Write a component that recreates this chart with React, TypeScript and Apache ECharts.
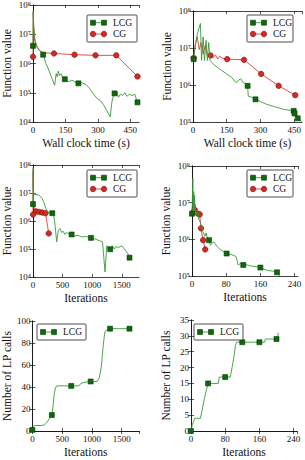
import React, { useEffect, useRef } from "react";
import * as echarts from "echarts";

// [x, y, marker] — marker = 1 draws the series symbol at that point
type Pt = [number, number, number?];

// Function value against wall clock time (s)
const lcgTimeValueA: Pt[] = [
  [0, 4e6, 1], [1, 6e7], [3, 2e7], [6, 1e7], [10, 6e6], [18, 4e6], [30, 2.8e6],
  [47, 2.0e6, 1], [60, 1.0e6], [75, 5.5e5], [88, 3.0e5], [100, 1.8e5], [107, 4.5e5],
  [112, 3.5e5], [117, 5.5e5], [122, 3.8e5], [130, 4.5e5], [138, 3.2e5], [147, 2.9e5, 1],
  [158, 2.6e5], [168, 2.4e5], [180, 2.7e5], [195, 2.3e5], [210, 2.1e5, 1], [225, 2.2e5],
  [245, 1.9e5], [262, 1.4e5], [280, 9e4], [295, 6.5e4], [310, 5.5e4], [325, 4e4],
  [340, 2.5e4], [357, 1.5e4], [365, 5e4], [372, 8e4], [377, 9.5e4, 1], [388, 1.1e5],
  [395, 7e4], [405, 9e4], [415, 8e4], [425, 1.0e5], [435, 7.5e4], [445, 9e4], [458, 8e4],
  [470, 9e4], [478, 6e4], [483, 4.7e4, 1],
];
const cgTimeValueA: Pt[] = [
  [0, 1.7e6, 1], [1, 6e7], [3, 2e7], [8, 6e6], [15, 4e6], [25, 3e6], [40, 2.5e6],
  [60, 2.3e6], [97, 2.2e6, 1], [192, 2.0e6, 1], [289, 1.9e6, 1], [385, 1.9e6, 1],
  [483, 3.6e5, 1],
];
const lcgTimeValueB: Pt[] = [
  [3, 5e6, 1], [10, 1.2e7], [20, 2.5e7], [33, 4.6e7], [38, 4.6e6], [45, 2e7], [51, 4.6e6],
  [58, 1.6e7], [64, 4.6e6], [70, 1.4e7], [76, 4.6e6], [90, 3.7e6], [119, 2.7e6],
  [149, 2.0e6], [172, 1.6e6], [191, 1.17e6], [201, 1.3e6], [212, 1.5e6], [221, 1.2e6],
  [231, 1.1e6], [243, 9.5e5, 1], [246, 5e5], [261, 4.7e5], [278, 4.1e5, 1], [328, 3e5],
  [403, 2.2e5], [448, 2.0e5, 1], [452, 1.7e5, 1], [466, 1.26e5, 1], [485, 1.02e5],
];
const cgTimeValueB: Pt[] = [
  [3, 5.4e6, 1], [10, 1.2e7], [19, 2.0e7], [28, 9e6], [35, 1.4e7], [45, 7e6], [55, 1.2e7],
  [65, 6e6], [78, 6.3e6, 1], [90, 5.5e6], [100, 6.5e6], [110, 5e6], [118, 6e6],
  [130, 5.3e6], [152, 5.0e6, 1], [227, 4.8e6, 1], [303, 2.0e6, 1], [381, 9.5e5, 1],
  [455, 5.3e5, 1],
];

// Function value against iterations
const lcgIterValueA: Pt[] = [
  [0, 4e6, 1], [2, 8e7], [5, 2e7], [12, 9e6], [30, 9e6], [97, 8.5e6], [152, 6.4e6],
  [180, 4.8e6], [218, 2.8e6], [251, 2.1e6], [326, 1.9e6, 1], [350, 1.6e6], [373, 7e5],
  [400, 1.8e5], [428, 4.7e5], [456, 5.4e5], [483, 3.9e5], [511, 4.3e5], [538, 3.3e5],
  [566, 3.9e5], [600, 3.5e5], [652, 3.3e5, 1], [704, 2.9e5], [760, 3.1e5], [820, 2.7e5],
  [900, 2.8e5], [978, 2.5e5, 1], [1036, 2.3e5], [1118, 2.0e5], [1173, 1.8e5],
  [1217, 1.5e4], [1245, 1.3e5], [1304, 9.8e4, 1], [1339, 1.3e5], [1370, 1.0e5],
  [1395, 1.2e5], [1450, 1.15e5], [1500, 1.3e5], [1560, 9e4], [1600, 6.9e4],
  [1630, 4.9e4, 1],
];
const cgIterValueA: Pt[] = [
  [0, 1.7e6, 1], [1, 6e7], [3, 2e7], [6, 8e6], [12, 4e6], [22, 3e6], [35, 2.5e6],
  [53, 2.2e6, 1], [106, 2.1e6, 1], [159, 2.0e6, 1], [212, 1.9e6, 1], [265, 3.6e5, 1],
];
const lcgIterValueB: Pt[] = [
  [0, 5e6, 1], [2, 4.6e7], [3, 5e6], [4, 2e7], [5, 4.6e6], [6, 1.6e7], [7, 4.6e6],
  [8, 6e6], [10, 4.5e6], [13, 6.5e6], [16, 3.5e6], [19, 3e6], [22, 2.2e6], [26, 1.6e6],
  [30, 1.2e6], [33, 1.5e6], [36, 1.1e6], [40, 9.5e5, 1], [43, 6.9e5], [51, 8.6e5],
  [59, 6.3e5], [66, 5.3e5], [72, 4.8e5], [81, 4.1e5, 1], [91, 3.9e5], [103, 3.4e5],
  [108, 2.0e5], [114, 2.2e5], [120, 2.0e5, 1], [130, 2.0e5], [140, 1.85e5], [150, 1.8e5],
  [160, 1.7e5, 1], [170, 1.5e5], [180, 1.4e5], [190, 1.35e5], [199, 1.26e5, 1],
  [205, 1.02e5],
];
const cgIterValueB: Pt[] = [
  [2, 5.4e6, 1], [4, 1.5e7], [6, 6.3e6, 1], [8, 9e6], [10, 5.5e6], [12, 7e6],
  [14, 5.0e6, 1], [18, 4.8e6, 1], [21, 2.0e6, 1], [26, 9.5e5, 1], [31, 5.3e5, 1],
];

// Number of LP calls against iterations
const lcgIterLpA: Pt[] = [
  [0, 1, 1], [10, 4], [30, 5], [150, 5], [200, 5.5], [230, 7], [260, 9], [290, 12],
  [326, 14.5, 1], [345, 22], [365, 33], [385, 39], [410, 41], [500, 41], [652, 41, 1],
  [780, 41], [810, 43], [850, 44], [900, 44.5], [978, 45, 1], [1087, 45], [1120, 48],
  [1140, 53], [1161, 60], [1184, 75], [1205, 85], [1218, 90], [1247, 92], [1304, 93, 1],
  [1450, 93], [1630, 93, 1],
];
const lcgIterLpB: Pt[] = [
  [0, 0, 1], [3, 2], [6, 3], [9, 4], [22, 4], [26, 6.5], [31, 10], [36, 13], [40, 15, 1],
  [50, 15], [64, 15], [66, 17], [80, 17, 1], [92, 17], [96, 20], [100, 23], [104, 27],
  [107, 28], [120, 28, 1], [140, 28], [160, 28, 1], [172, 28], [174, 29], [190, 29],
  [200, 29, 1], [203, 29.5], [204, 31],
];

const xTitles = ["Wall clock time (s)", "Wall clock time (s)", "Iterations", "Iterations", "Iterations", "Iterations"];
const yTitles = ["Function value", "Function value", "Function value", "Function value", "Number of LP calls", "Number of LP calls"];

const FONT = "Liberation Serif";
const GREEN_LINE = "#3a9a3a";
const GREEN_MARK = "#0c6a0c";
const GREEN_EDGE = "#063d06";
const RED_LINE = "#e0403a";
const RED_MARK = "#d42a24";
const RED_EDGE = "#7a0a08";

const SUP: Record<number, string> = { 4: "⁴", 5: "⁵", 6: "⁶", 7: "⁷", 8: "⁸" };

interface Panel {
  grid: { left: number; top: number; width: number; height: number };
  x: { max: number; interval: number };
  y: { log: boolean; min: number; max: number; interval?: number };
}

const panels: Panel[] = [
  { grid: { left: 32, top: 5, width: 107, height: 117 }, x: { max: 490, interval: 150 }, y: { log: true, min: 1e4, max: 1e8 } },
  { grid: { left: 193, top: 11, width: 109, height: 111 }, x: { max: 485, interval: 150 }, y: { log: true, min: 1e5, max: 1e8 } },
  { grid: { left: 32, top: 165, width: 107, height: 112 }, x: { max: 1790, interval: 500 }, y: { log: true, min: 1e4, max: 1e8 } },
  { grid: { left: 192, top: 166, width: 106, height: 110 }, x: { max: 248, interval: 80 }, y: { log: true, min: 1e5, max: 1e8 } },
  { grid: { left: 32, top: 321, width: 107, height: 110 }, x: { max: 1790, interval: 500 }, y: { log: false, min: 0, max: 100, interval: 20 } },
  { grid: { left: 191, top: 320, width: 106, height: 111 }, x: { max: 248, interval: 80 }, y: { log: false, min: 0, max: 35, interval: 5 } },
];

function series(name: string, data: Pt[], idx: number, isLcg: boolean) {
  const symbol = isLcg ? "rect" : "circle";
  return {
    type: "line",
    name,
    xAxisIndex: 2 * idx,
    yAxisIndex: 2 * idx,
    showSymbol: true,
    showAllSymbol: true,
    symbol: "none",
    clip: true,
    silent: true,
    z: isLcg ? 3 : 2,
    lineStyle: { color: isLcg ? GREEN_LINE : RED_LINE, width: 0.9 },
    itemStyle: {
      color: isLcg ? GREEN_MARK : RED_MARK,
      borderColor: isLcg ? GREEN_EDGE : RED_EDGE,
      borderWidth: 0.6,
    },
    data: data.map(([x, y, m]) =>
      m ? { value: [x, y], symbol, symbolSize: isLcg ? 5 : 5.5 } : { value: [x, y], symbol: "none" }
    ),
  };
}

function legend(left: number, top: number, width: number, withCg: boolean) {
  const rows = withCg ? 2 : 1;
  const height = withCg ? 27 : 16;
  const els: any[] = [
    {
      type: "rect",
      shape: { x: left, y: top, width, height, r: 1 },
      style: { fill: "#fff", stroke: "#222", lineWidth: 0.8 },
      z: 100,
    },
  ];
  for (let r = 0; r < rows; r++) {
    const isLcg = r === 0;
    const cy = top + (withCg ? 7.7 + r * 11.3 : 8);
    const x1 = left + 4;
    const x2 = left + 19;
    els.push({
      type: "line",
      shape: { x1, y1: cy, x2, y2: cy },
      style: { stroke: isLcg ? GREEN_LINE : RED_LINE, lineWidth: 0.9 },
      z: 101,
    });
    for (const mx of [x1 + 2, x2 - 2]) {
      els.push(
        isLcg
          ? {
              type: "rect",
              shape: { x: mx - 2.5, y: cy - 2.5, width: 5, height: 5 },
              style: { fill: GREEN_MARK, stroke: GREEN_EDGE, lineWidth: 0.6 },
              z: 102,
            }
          : {
              type: "circle",
              shape: { cx: mx, cy, r: 2.75 },
              style: { fill: RED_MARK, stroke: RED_EDGE, lineWidth: 0.6 },
              z: 102,
            }
      );
    }
    els.push({
      type: "text",
      x: left + 26,
      y: cy,
      style: {
        text: isLcg ? "LCG" : "CG",
        fill: "#111",
        fontFamily: FONT,
        fontSize: 9.5,
        verticalAlign: "middle",
        align: "left",
      },
      z: 102,
    });
  }
  return els;
}

export default function App() {
  const ref = useRef<HTMLDivElement>(null);

  useEffect(() => {
    if (!ref.current) return;
    const chart = echarts.init(ref.current, undefined, { renderer: "svg" });

    const tickLabel = { fontFamily: FONT, fontSize: 9, color: "#111" };
    const nameStyle = { fontFamily: FONT, fontSize: 11.5, color: "#111" };
    const axisLine = { show: true, lineStyle: { color: "#111", width: 0.8 } };
    const axisTick = { show: true, inside: true, length: 3, lineStyle: { color: "#111", width: 0.7 } };

    const xAxis: any[] = [];
    const yAxis: any[] = [];
    panels.forEach((p, i) => {
      const xBase = {
        type: "value",
        gridIndex: i,
        min: 0,
        max: p.x.max,
        interval: p.x.interval,
        axisLine,
        axisTick,
        splitLine: { show: false },
      };
      xAxis.push({
        ...xBase,
        position: "bottom",
        name: xTitles[i],
        nameLocation: "middle",
        nameGap: 15,
        nameTextStyle: nameStyle,
        axisLabel: { ...tickLabel, margin: 3, showMaxLabel: false, formatter: (v: number) => String(v) },
      });
      xAxis.push({ ...xBase, position: "top", axisLabel: { show: false } });

      const yBase: any = p.y.log
        ? { type: "log", logBase: 10, min: p.y.min, max: p.y.max }
        : { type: "value", min: p.y.min, max: p.y.max, interval: p.y.interval };
      Object.assign(yBase, { gridIndex: i, axisLine, axisTick, splitLine: { show: false } });
      yAxis.push({
        ...yBase,
        position: "left",
        name: yTitles[i],
        nameLocation: "middle",
        nameGap: p.y.log ? 20 : 19,
        nameTextStyle: nameStyle,
        axisLabel: {
          ...tickLabel,
          margin: 2,
          formatter: p.y.log
            ? (v: number) => "10" + (SUP[Math.round(Math.log10(v))] ?? "")
            : (v: number) => String(v),
        },
      });
      yAxis.push({ ...yBase, position: "right", axisLabel: { show: false } });
    });

    chart.setOption({
      animation: false,
      backgroundColor: "#fff",
      grid: panels.map((p) => ({ ...p.grid, containLabel: false })),
      xAxis,
      yAxis,
      series: [
        series("CG", cgTimeValueA, 0, false),
        series("LCG", lcgTimeValueA, 0, true),
        series("CG", cgTimeValueB, 1, false),
        series("LCG", lcgTimeValueB, 1, true),
        series("CG", cgIterValueA, 2, false),
        series("LCG", lcgIterValueA, 2, true),
        series("CG", cgIterValueB, 3, false),
        series("LCG", lcgIterValueB, 3, true),
        series("LCG", lcgIterLpA, 4, true),
        series("LCG", lcgIterLpB, 5, true),
      ],
      graphic: [
        ...legend(87, 15, 50, true),
        ...legend(247, 15, 46, true),
        ...legend(87, 170, 50, true),
        ...legend(247, 170, 46, true),
        ...legend(37, 324, 49, false),
        ...legend(194, 324, 49, false),
      ],
    });

    return () => chart.dispose();
  }, []);

  return (
    <div
      ref={ref}
      style={{ position: "absolute", left: 0, top: 0, width: 305, height: 460, background: "#fff" }}
    />
  );
}
